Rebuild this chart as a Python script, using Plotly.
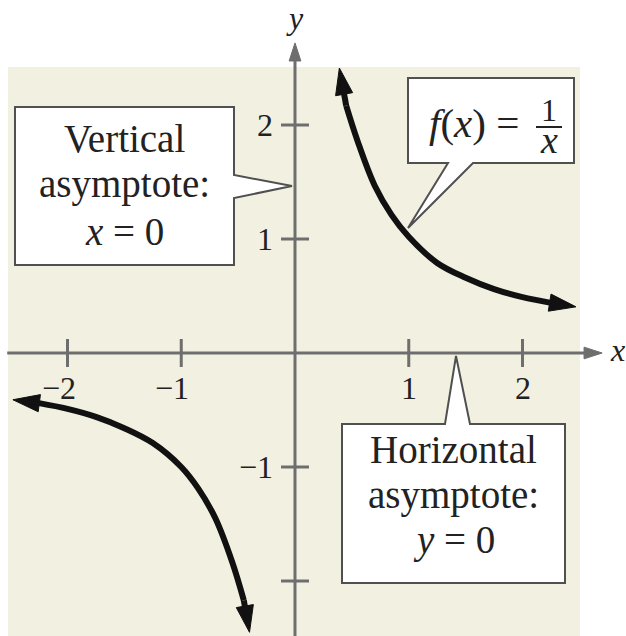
import plotly.graph_objects as go

# ---------------- data ----------------
# first and last points are the arrow tips of each branch
right_x = [0.39, 0.45, 0.55, 0.70, 0.85, 1.00, 1.25, 1.50, 1.75, 2.00, 2.25, 2.47]
right_y = [2.50, 2.17, 1.86, 1.47, 1.21, 1.02, 0.79, 0.66, 0.56, 0.49, 0.44, 0.405]
left_x = [-2.48, -2.25, -2.00, -1.75, -1.50, -1.25, -1.00, -0.85, -0.70, -0.55, -0.45, -0.40]
left_y = [-0.41, -0.44, -0.49, -0.56, -0.66, -0.79, -1.00, -1.19, -1.45, -1.84, -2.17, -2.45]

x_ticks = [-2, -1, 1, 2]
x_tick_labels = ["\u22122", "\u22121", "1", "2"]
y_ticks = [-2, -1, 1, 2]
y_tick_labels = ["", "\u22121", "1", "2"]

# ---------------- layout constants ----------------
W, H = 626, 636
ORIGIN = (295, 353)       # pixel position of (0,0)
UNIT = (113.75, 114)      # pixels per unit
SERIF = "Liberation Serif, Times New Roman, serif"
AXIS_GRAY = "#6e6e6e"
CURVE = "#111111"
BEIGE = "#f2f0e0"
BOX_EDGE = "#505050"
TEXT = "#222222"

x_range = [-ORIGIN[0] / UNIT[0], (W - ORIGIN[0]) / UNIT[0]]
y_range = [(ORIGIN[1] - H) / UNIT[1], ORIGIN[1] / UNIT[1]]


def px(v):
    return v / W


def py(v):
    return 1 - v / H


def ppath(points):
    return "M" + " L".join(f"{px(a):.5f},{py(b):.5f}" for a, b in points) + " Z"


fig = go.Figure()


def arrow_line(xs, ys, color, width, head):
    sizes = [0] * (len(xs) - 1) + [head]
    return go.Scatter(
        x=xs, y=ys, mode="lines+markers",
        line=dict(color=color, width=width),
        marker=dict(symbol="arrow", size=sizes, angleref="previous", opacity=1,
                    color=color, line=dict(width=1, color=color)),
        hoverinfo="skip", showlegend=False,
    )


# axes with arrow heads
fig.add_trace(arrow_line([-2.53, 2.70], [0, 0], AXIS_GRAY, 3, 19))
fig.add_trace(arrow_line([0, 0], [y_range[0] - 0.1, 2.72], AXIS_GRAY, 3, 19))

# tick marks
fig.add_trace(go.Scatter(x=x_ticks, y=[0] * len(x_ticks), mode="markers",
                         marker=dict(symbol="line-ns", size=20, line=dict(width=3, color=AXIS_GRAY)),
                         hoverinfo="skip", showlegend=False))
fig.add_trace(go.Scatter(x=[0] * len(y_ticks), y=y_ticks, mode="markers",
                         marker=dict(symbol="line-ew", size=20, line=dict(width=3, color=AXIS_GRAY)),
                         hoverinfo="skip", showlegend=False))

# the two branches of f(x) = 1/x : smooth body + arrow-tipped end segments
for xs, ys in ((right_x, right_y), (left_x, left_y)):
    fig.add_trace(go.Scatter(x=xs[1:-1], y=ys[1:-1], mode="lines",
                             line=dict(color=CURVE, width=6, shape="spline"),
                             hoverinfo="skip", showlegend=False))
    fig.add_trace(arrow_line([xs[1], xs[0]], [ys[1], ys[0]], CURVE, 6, 28))
    fig.add_trace(arrow_line([xs[-2], xs[-1]], [ys[-2], ys[-1]], CURVE, 6, 28))

shapes = [
    # beige panel
    dict(type="rect", xref="paper", yref="paper", x0=px(8), x1=px(580), y0=py(640), y1=py(67),
         fillcolor=BEIGE, line=dict(width=0), layer="below"),
    # callout boxes
    dict(type="path", xref="paper", yref="paper",
         path=ppath([(15, 107), (234, 107), (234, 175), (292, 186), (234, 198), (234, 265), (15, 265)]),
         fillcolor="white", line=dict(color=BOX_EDGE, width=2), layer="above"),
    dict(type="path", xref="paper", yref="paper",
         path=ppath([(408, 78), (574, 78), (574, 163), (473, 163), (408, 228), (448, 163), (408, 163)]),
         fillcolor="white", line=dict(color=BOX_EDGE, width=2), layer="above"),
    dict(type="path", xref="paper", yref="paper",
         path=ppath([(342, 424), (445, 424), (456, 356), (470, 424), (565, 424), (565, 583), (342, 583)]),
         fillcolor="white", line=dict(color=BOX_EDGE, width=2), layer="above"),
    # fraction bar
    dict(type="line", xref="paper", yref="paper", x0=px(536), x1=px(562), y0=py(127), y1=py(127),
         line=dict(color=TEXT, width=2), layer="above"),
]

ann = []
for t, lab in zip(x_ticks, x_tick_labels):
    ann.append(dict(x=t, y=0, xref="x", yref="y", text=lab, showarrow=False,
                    xanchor="right", yanchor="top", xshift=10, yshift=-15,
                    font=dict(family=SERIF, size=32, color=TEXT)))
for t, lab in zip(y_ticks, y_tick_labels):
    if lab:
        ann.append(dict(x=0, y=t, xref="x", yref="y", text=lab, showarrow=False,
                        xanchor="right", yanchor="middle", xshift=-20,
                        font=dict(family=SERIF, size=32, color=TEXT)))
# axis titles
ann.append(dict(x=px(617), y=0, xref="paper", yref="y", text="<i>x</i>", showarrow=False,
                xanchor="center", yanchor="middle", yshift=3, font=dict(family=SERIF, size=32, color=TEXT)))
ann.append(dict(x=0, y=py(18), xref="x", yref="paper", text="<i>y</i>", showarrow=False,
                xanchor="center", yanchor="middle", font=dict(family=SERIF, size=32, color=TEXT)))

# callout texts, one annotation per line
vert_lines = ["Vertical", "asymptote:", "<i>x</i> = 0"]
for txt, cy in zip(vert_lines, [138, 184, 232]):
    ann.append(dict(x=px(124), y=py(cy), xref="paper", yref="paper", text=txt, showarrow=False,
                    xanchor="center", yanchor="middle", font=dict(family=SERIF, size=39, color=TEXT)))
horiz_lines = ["Horizontal", "asymptote:", "<i>y</i> = 0"]
for txt, cy in zip(horiz_lines, [450, 495, 540]):
    ann.append(dict(x=px(453.5), y=py(cy), xref="paper", yref="paper", text=txt, showarrow=False,
                    xanchor="center", yanchor="middle", font=dict(family=SERIF, size=39, color=TEXT)))

ann.append(dict(x=px(521), y=py(123), xref="paper", yref="paper",
                text="<i>f</i>(<i>x</i>) =", showarrow=False,
                xanchor="right", yanchor="middle",
                font=dict(family=SERIF, size=41, color=TEXT)))
ann.append(dict(x=px(549), y=py(130), xref="paper", yref="paper",
                text="1", showarrow=False, xanchor="center", yanchor="bottom",
                font=dict(family=SERIF, size=32, color=TEXT)))
ann.append(dict(x=px(549), y=py(117), xref="paper", yref="paper",
                text="<i>x</i>", showarrow=False, xanchor="center", yanchor="top",
                font=dict(family=SERIF, size=38, color=TEXT)))

fig.update_layout(
    width=W, height=H, margin=dict(l=0, r=0, t=0, b=0),
    paper_bgcolor="white", plot_bgcolor="rgba(0,0,0,0)",
    xaxis=dict(range=x_range, visible=False, fixedrange=True),
    yaxis=dict(range=y_range, visible=False, fixedrange=True),
    shapes=shapes, annotations=ann, showlegend=False,
)

fig.write_html("out.html", config={"displayModeBar": False},
               post_script="document.body.style.margin='0';document.body.style.overflow='hidden';")
